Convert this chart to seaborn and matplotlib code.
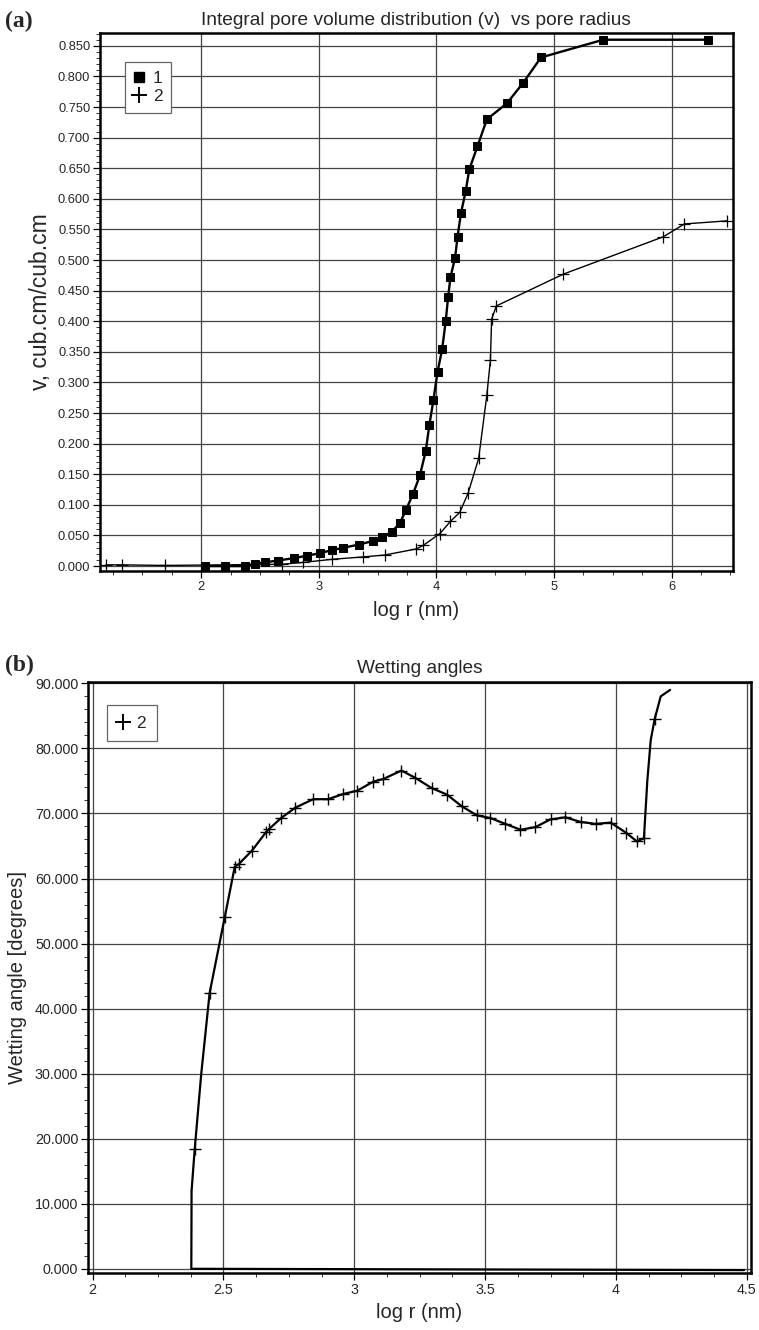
import numpy as np
import pandas as pd
import matplotlib
matplotlib.use("Agg")
import matplotlib.pyplot as plt
from matplotlib.lines import Line2D
from matplotlib.ticker import MultipleLocator, FormatStrFormatter
import seaborn as sns

# ---------------- data ----------------
# Panel (a): integral pore volume distribution
a1_logr = [2.03, 2.20, 2.37, 2.46, 2.54, 2.65, 2.79, 2.90, 3.01, 3.11, 3.21, 3.34,
           3.46, 3.54, 3.62, 3.69, 3.74, 3.80, 3.86, 3.91, 3.94, 3.975, 4.01, 4.05,
           4.08, 4.10, 4.12, 4.16, 4.18, 4.21, 4.25, 4.28, 4.35, 4.43, 4.60, 4.74,
           4.89, 5.42, 6.31]
a1_v = [0.000, 0.000, 0.000, 0.004, 0.006, 0.009, 0.013, 0.017, 0.021, 0.026, 0.030, 0.035,
        0.041, 0.047, 0.056, 0.070, 0.091, 0.117, 0.148, 0.188, 0.230, 0.271, 0.317, 0.355,
        0.401, 0.439, 0.472, 0.504, 0.538, 0.577, 0.613, 0.648, 0.686, 0.730, 0.756, 0.790,
        0.831, 0.860, 0.860]

a2_logr = [1.19, 1.33, 1.69, 2.69, 2.87, 3.11, 3.38, 3.56, 3.83, 3.89, 4.03, 4.12,
           4.20, 4.27, 4.36, 4.43, 4.46, 4.47, 4.51, 5.08, 5.93, 6.11, 6.47]
a2_v = [0.002, 0.002, 0.001, 0.003, 0.006, 0.011, 0.015, 0.018, 0.028, 0.034, 0.053, 0.073,
        0.088, 0.119, 0.176, 0.280, 0.337, 0.403, 0.425, 0.477, 0.538, 0.559, 0.564]

# Panel (b): wetting angles
b_logr = [4.49, 2.377, 2.378, 2.39, 2.415, 2.447, 2.505, 2.543, 2.558, 2.609, 2.664, 2.674,
          2.72, 2.775, 2.843, 2.90, 2.958, 3.011, 3.073, 3.111, 3.18, 3.232, 3.296,
          3.354, 3.411, 3.469, 3.52, 3.577, 3.635, 3.692, 3.75, 3.807, 3.865, 3.922,
          3.98, 4.04, 4.08, 4.107, 4.12, 4.133, 4.148, 4.171, 4.207]
b_angle = [-0.2, 0.0, 12.0, 18.4, 30.0, 42.4, 54.1, 61.8, 62.2, 64.3, 67.2, 67.6,
           69.3, 70.9, 72.2, 72.2, 73.0, 73.5, 74.9, 75.3, 76.6, 75.5, 73.9,
           72.9, 71.1, 69.7, 69.3, 68.4, 67.5, 67.9, 69.1, 69.4, 68.7, 68.4,
           68.6, 67.0, 65.7, 66.2, 75.1, 81.3, 84.5, 88.0, 89.0]
b_marked = [False, False, False, True, False, True, True, True, True, True, True, True,
            True, True, True, True, True, True, True, True, True, True, True,
            True, True, True, True, True, True, True, True, True, True, True,
            True, True, True, True, False, False, True, False, False]

title_a = "Integral pore volume distribution (v)  vs pore radius"
title_b = "Wetting angles"
xlabel = "log r (nm)"
ylabel_a = "v, cub.cm/cub.cm"
ylabel_b = "Wetting angle [degrees]"

# ---------------- style ----------------
sns.set_theme(style="white")
plt.rcParams['font.family'] = ['Liberation Sans', 'DejaVu Sans']

fig = plt.figure(figsize=(7.59, 13.30), dpi=100)
ax1 = fig.add_axes([0.1318, 0.5707, 0.8335, 0.4045])
ax2 = fig.add_axes([0.1159, 0.0426, 0.8735, 0.4448])

df1 = pd.DataFrame({"x": a1_logr, "y": a1_v})
df2 = pd.DataFrame({"x": a2_logr, "y": a2_v})
dfb = pd.DataFrame({"x": b_logr, "y": b_angle})

grid_kw = dict(color="#444444", linewidth=0.9)

# ---- panel (a)
sns.lineplot(data=df1, x="x", y="y", ax=ax1, color="black", linewidth=1.7,
             marker="s", markersize=6, markeredgecolor="black", markerfacecolor="black",
             sort=False, estimator=None, zorder=4)
sns.lineplot(data=df2, x="x", y="y", ax=ax1, color="black", linewidth=1.0,
             marker="+", markersize=8, markeredgewidth=0.9, markeredgecolor="black",
             sort=False, estimator=None, zorder=3)
ax1.set_xlim(1.14, 6.52)
ax1.set_ylim(-0.008, 0.871)
ax1.xaxis.set_major_locator(MultipleLocator(1))
ax1.xaxis.set_minor_locator(MultipleLocator(0.25))
ax1.yaxis.set_major_locator(MultipleLocator(0.05))
ax1.yaxis.set_minor_locator(MultipleLocator(0.01))
ax1.yaxis.set_major_formatter(FormatStrFormatter("%.3f"))
ax1.set_xticks([2, 3, 4, 5, 6])
ax1.grid(True, which="major", **grid_kw)
ax1.set_title(title_a, fontsize=13.8, pad=6)
ax1.set_xlabel(xlabel, fontsize=14.5, labelpad=6)
ax1.set_ylabel(ylabel_a, fontsize=16.5, labelpad=4)
leg1 = ax1.legend(handles=[
    Line2D([], [], color="black", marker="s", linestyle="none", markersize=7),
    Line2D([], [], color="black", marker="+", linestyle="none", markersize=11, markeredgewidth=1.4)],
    labels=["1", "2"], loc="upper left", bbox_to_anchor=(0.0395, 0.946),
    borderaxespad=0, fancybox=False, framealpha=1, edgecolor="#666666", fontsize=12.5,
    handlelength=0.6, handletextpad=0.5, borderpad=0.5, labelspacing=0.2)
leg1.get_frame().set_linewidth(0.9)

# ---- panel (b)
sns.lineplot(data=dfb, x="x", y="y", ax=ax2, color="black", linewidth=1.6,
             marker="+", markersize=9, markeredgewidth=1.0, markeredgecolor="black",
             markevery=b_marked, sort=False, estimator=None, zorder=3)
ax2.set_xlim(1.982, 4.516)
ax2.set_ylim(-0.7, 90.25)
ax2.xaxis.set_major_locator(MultipleLocator(0.5))
ax2.xaxis.set_minor_locator(MultipleLocator(0.125))
ax2.yaxis.set_major_locator(MultipleLocator(10))
ax2.yaxis.set_minor_locator(MultipleLocator(2))
ax2.yaxis.set_major_formatter(FormatStrFormatter("%.3f"))
ax2.xaxis.set_major_formatter(FormatStrFormatter("%g"))
ax2.grid(True, which="major", **grid_kw)
ax2.set_title(title_b, fontsize=13.8, pad=6)
ax2.set_xlabel(xlabel, fontsize=14.5, labelpad=4)
ax2.set_ylabel(ylabel_b, fontsize=14.5, labelpad=6)
leg2 = ax2.legend(handles=[
    Line2D([], [], color="black", marker="+", linestyle="none", markersize=11, markeredgewidth=1.4)],
    labels=["2"], loc="upper left", bbox_to_anchor=(0.0287, 0.9606),
    borderaxespad=0, fancybox=False, framealpha=1, edgecolor="#666666", fontsize=12.5,
    handlelength=0.6, handletextpad=0.5, borderpad=0.6)
leg2.get_frame().set_linewidth(0.9)

for ax, ls in ((ax1, 9.3), (ax2, 10.3)):
    for s in ax.spines.values():
        s.set_visible(True)
        s.set_color("black")
        s.set_linewidth(1.8)
    ax.tick_params(axis="both", which="major", direction="out", length=5, width=0.9,
                   color="black", labelsize=ls, pad=2, bottom=True, left=True)
    ax.tick_params(axis="both", which="minor", direction="out", length=3, width=0.7,
                   color="#333333", bottom=True, left=True)

fig.text(0.006, 0.9835, "(a)", fontsize=17, fontweight="bold",
         family=["Liberation Serif", "DejaVu Serif"], va="center", ha="left")
fig.text(0.006, 0.5, "(b)", fontsize=17, fontweight="bold",
         family=["Liberation Serif", "DejaVu Serif"], va="center", ha="left")

fig.savefig("out.png", dpi=100, facecolor="white")
